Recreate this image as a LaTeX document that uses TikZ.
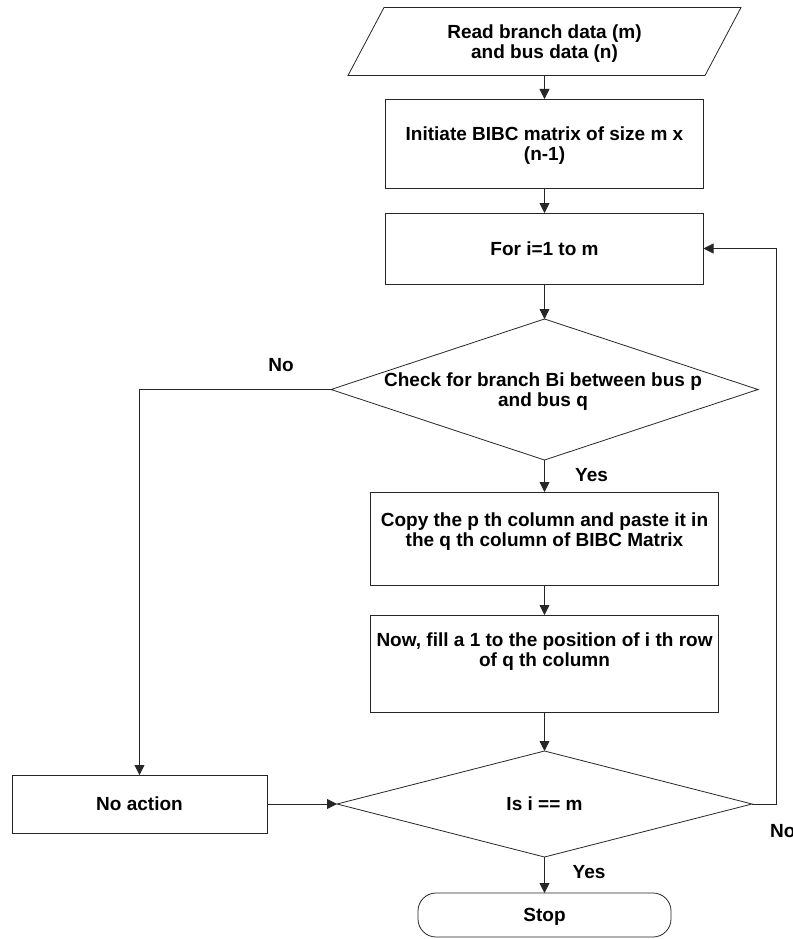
\documentclass[tikz,border=0pt]{standalone}
\usepackage{fontspec}
\setmainfont{Liberation Sans}
\usetikzlibrary{shapes.geometric,arrows.meta}
\begin{document}
\begin{tikzpicture}[x=1pt,y=-1pt,
  every node/.style={font=\fontsize{19}{20.5}\selectfont\bfseries, text=black},
  flowline/.style={draw=black!85, line width=0.8pt},
  arr/.style={flowline, -{Triangle[length=10pt,width=10pt]}},
  procbox/.style={rectangle, draw=black!85, line width=0.8pt, inner sep=0pt,
    outer sep=0pt, align=center, text height=13.6pt, text depth=0pt},
  decision/.style={diamond, draw=black!85, line width=0.8pt, inner sep=0pt,
    outer sep=0pt},
  plain/.style={inner sep=0pt, align=center, text height=13.6pt, text depth=0pt},
  twolines/.style={text height=34.1pt}
]
\useasboundingbox (0,0) rectangle (792,939);

% input: parallelogram drawn around an invisible text node
\node[procbox, draw=none, twolines, minimum width=357pt, minimum height=68pt]
  (data) at (544.5,41.5) {Read branch data (m)\\and bus data (n)};
\draw[flowline] ([xshift=18pt]data.north west) -- ([xshift=18pt]data.north east)
  -- ([xshift=-18pt]data.south east) -- ([xshift=-18pt]data.south west) -- cycle;

% process steps
\node[procbox, twolines, minimum width=318pt, minimum height=89pt]
  (init) at (544.5,143.5) {Initiate BIBC matrix of size m x\\(n-1)};
\node[procbox, minimum width=318pt, minimum height=71pt]
  (loop) at (544.5,248.5) {For i=1 to m};

\node[decision, minimum width=427pt, minimum height=141pt] (check) at (544.5,389.5) {};
\node[plain, twolines] (checktext) at (543,389.5) {Check for branch Bi between bus p\\and bus q};

\node[procbox, twolines, text depth=18pt, minimum width=348pt, minimum height=93pt]
  (copy) at (544.5,538.5) {Copy the p th column and paste it in\\the q th column of BIBC Matrix};
\node[procbox, twolines, text depth=28pt, minimum width=348pt, minimum height=97pt]
  (fill) at (544.5,663.5) {Now, fill a 1 to the position of i th row\\of q th column};

\node[decision, minimum width=415pt, minimum height=106pt] (isdone) at (544.5,804) {};
\node[plain] (isdonetext) at (544.5,804) {Is i == m};

\node[procbox, minimum width=255pt, minimum height=58pt] (noact) at (139.5,804) {No action};
\node[procbox, rounded corners=18pt, minimum width=253pt, minimum height=44pt]
  (stop) at (544.5,915) {Stop};

% connectors
\draw[arr] (data.south) -- (init.north);
\draw[arr] (init.south) -- (loop.north);
\draw[arr] (loop.south) -- (check.north);
\draw[arr] (check.south) -- (copy.north);
\draw[arr] (copy.south) -- (fill.north);
\draw[arr] (fill.south) -- (isdone.north);
\draw[arr] (isdone.south) -- (stop.north);
\draw[arr] (check.west) -| (noact.north);
\draw[arr] (noact.east) -- (isdone.west);
\draw[arr] (isdone.east) -- ++(24,0) |- (loop.east);

% branch labels
\node[plain] (nocheck) at (281,365) {No};
\node[plain] (yescheck) at (591.5,474.5) {Yes};
\node[plain] (yesdone) at (589,872) {Yes};
\node[plain, anchor=west] (nodone) at (770,831) {No};
\end{tikzpicture}
\end{document}
